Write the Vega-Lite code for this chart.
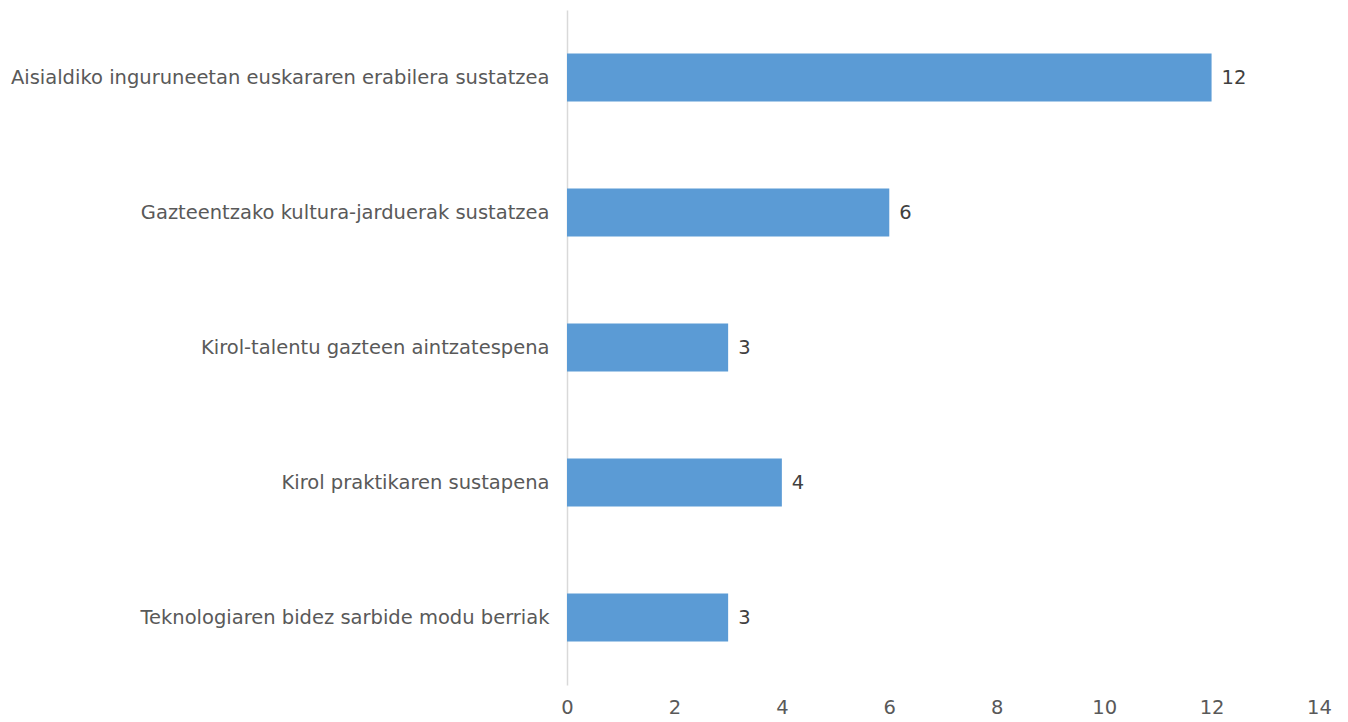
{
  "$schema": "https://vega.github.io/schema/vega-lite/v6.json",
  "width": 752,
  "height": 675,
  "autosize": {"type": "none"},
  "padding": {"left": 567, "top": 10, "right": 29, "bottom": 37},
  "background": "white",
  "config": {"view": {"stroke": null}, "font": "DejaVu Sans"},
  "data": {"values": [
    {"cat": "Aisialdiko inguruneetan euskararen erabilera sustatzea", "v": 12},
    {"cat": "Gazteentzako kultura-jarduerak sustatzea", "v": 6},
    {"cat": "Kirol-talentu gazteen aintzatespena", "v": 3},
    {"cat": "Kirol praktikaren sustapena", "v": 4},
    {"cat": "Teknologiaren bidez sarbide modu berriak", "v": 3}
  ]},
  "encoding": {
    "y": {"field": "cat", "type": "nominal", "sort": null,
      "scale": {"paddingInner": 0.645, "paddingOuter": 0.3225},
      "axis": {"title": null, "ticks": false, "domain": true, "domainColor": "#d9d9d9", "domainWidth": 1.5,
        "labelFont": "DejaVu Sans", "labelFontSize": 19.5, "labelColor": "#595959", "labelPadding": 18, "labelLimit": 0}},
    "x": {"field": "v", "type": "quantitative",
      "scale": {"domain": [0, 14]},
      "axis": {"title": null, "values": [0,2,4,6,8,10,12,14], "grid": false, "ticks": false, "domain": false, "labelFlush": false, "labelOverlap": false,
        "labelFont": "DejaVu Sans", "labelFontSize": 19.5, "labelColor": "#595959", "labelPadding": 13}}
  },
  "layer": [
    {"mark": {"type": "bar", "color": "#5b9bd5"}},
    {"mark": {"type": "text", "align": "left", "dx": 10, "fontSize": 19.5, "color": "#404040", "font": "DejaVu Sans"},
      "encoding": {"text": {"field": "v", "type": "quantitative"}}}
  ]
}
